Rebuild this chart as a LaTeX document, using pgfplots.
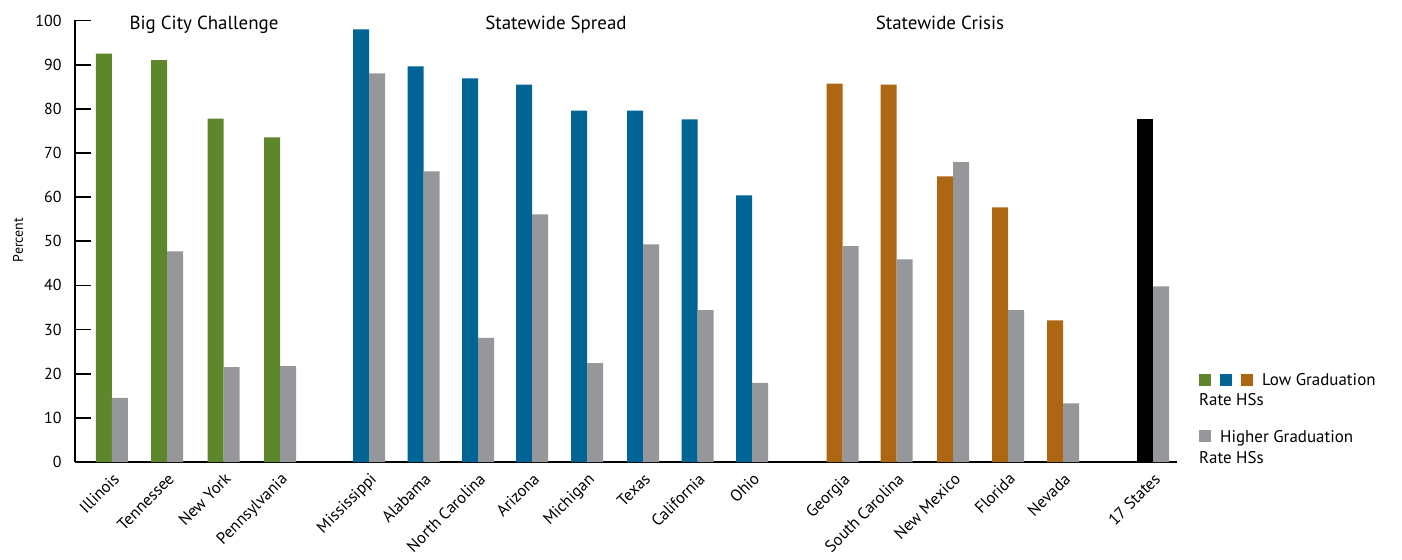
\documentclass[border=0pt]{standalone}
\usepackage{pgfplots}
\pgfplotsset{compat=1.18}
\usepackage{fontspec}
\setmainfont{PT Sans}
\definecolor{cgreen}{HTML}{5E862B}
\definecolor{cblue}{HTML}{006494}
\definecolor{corange}{HTML}{AD6611}
\definecolor{cgray}{HTML}{96979B}
\begin{document}
\begin{tikzpicture}
\path (-75bp,-98bp) rectangle (1327bp,462bp);
\begin{axis}[
  name=ax, at={(0,0)}, anchor=south west,
  scale only axis, width=1102bp, height=441.5bp,
  xmin=75, xmax=1177, ymin=0, ymax=100,
  enlargelimits=false, clip=false,
  axis x line=bottom, axis y line=left,
  axis line style={-, line width=1.8bp, black},
  ytick={0,10,...,100},
  tick align=inside, major tick length=16bp,
  ytick style={line width=1.8bp, black},
  yticklabel style={font=\fontsize{16}{19}\selectfont, xshift=-10bp},
  /pgf/number format/assume math mode=true,
  xtick={112,167,223.5,280,369,423.5,478,532,587,643,697.5,752,842.5,896.5,953,1008,1063,1153},
  xticklabels={Illinois,Tennessee,New York,Pennsylvania,Mississippi,Alabama,North Carolina,Arizona,Michigan,Texas,California,Ohio,Georgia,South Carolina,New Mexico,Florida,Nevada,17 States},
  xtick style={draw=none},
  xticklabel shift=-11bp,
  xticklabel style={rotate=45, anchor=north east, font=\fontsize{16.5}{19}\selectfont},
  ylabel={Percent},
  ylabel style={at={(axis description cs:-0.0517,0.503)}, anchor=center, font=\fontsize{14}{17}\selectfont},
  ybar, bar width=16,
]
\addplot[fill=cgreen, draw=none, bar shift=-8] coordinates {(112,92.5) (167,91.0) (223.5,77.8) (280,73.5)};
\addplot[fill=cblue, draw=none, bar shift=-8] coordinates {(369,98.0) (423.5,89.6) (478,86.9) (532,85.5) (587,79.6) (643,79.6) (697.5,77.6) (752,60.4)};
\addplot[fill=corange, draw=none, bar shift=-8] coordinates {(842.5,85.7) (896.5,85.5) (953,64.7) (1008,57.7) (1063,32.1)};
\addplot[fill=black, draw=none, bar shift=-8] coordinates {(1153,77.6)};
\addplot[fill=cgray, draw=none, bar shift=8] coordinates {(112,14.5) (167,47.7) (223.5,21.5) (280,21.7) (369,88.0) (423.5,65.8) (478,28.1) (532,56.1) (587,22.4) (643,49.3) (697.5,34.4) (752,17.9) (842.5,48.9) (896.5,45.9) (953,67.9) (1008,34.4) (1063,13.3) (1153,39.8)};
\node[anchor=base, font=\fontsize{19}{22}\selectfont] at (axis cs:204,98.05) {Big City Challenge};
\node[anchor=base, font=\fontsize{19}{22}\selectfont] at (axis cs:556,98.05) {Statewide Spread};
\node[anchor=base, font=\fontsize{19}{22}\selectfont] at (axis cs:940,98.05) {Statewide Crisis};
\end{axis}
\begin{scope}[every node/.style={anchor=base west, inner sep=0pt, font=\fontsize{17}{20}\selectfont}]
\node at (1124bp,76bp) {\textcolor{cgreen}{\rule{12bp}{12bp}}\hspace{9bp}\textcolor{cblue}{\rule{12bp}{12bp}}\hspace{9bp}\textcolor{corange}{\rule{12bp}{12bp}}\hspace{9bp}Low Graduation};
\node at (1124bp,56bp) {Rate HSs};
\node at (1124bp,20bp) {\textcolor{cgray}{\rule{12bp}{12bp}}\hspace{9bp}Higher Graduation};
\node at (1124bp,-1bp) {Rate HSs};
\end{scope}
\end{tikzpicture}
\end{document}
